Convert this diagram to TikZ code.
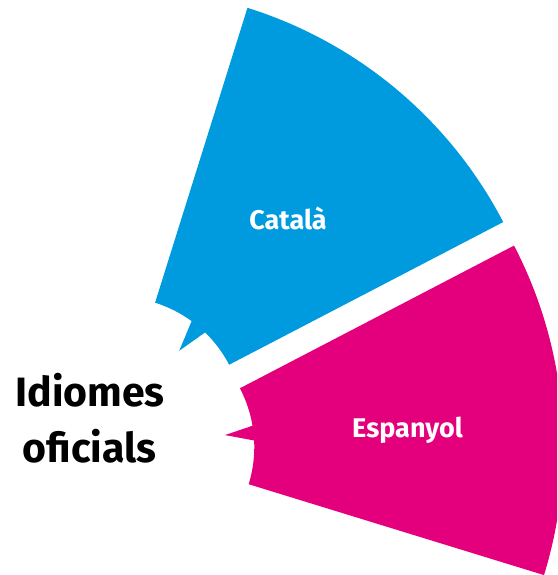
\documentclass[tikz,border=0pt]{standalone}
\usepackage{fontspec}
\setmainfont{Fira Sans}
\definecolor{catblue}{HTML}{009ADE}
\definecolor{espmag}{HTML}{E4007C}
\tikzset{
  wedgeblue/.style={fill=catblue, draw=none},
  wedgemag/.style={fill=espmag, draw=none},
  wedgelabel/.style={text=white, font=\bfseries\fontsize{27}{32}\selectfont, anchor=base, inner sep=0pt},
  titlelabel/.style={text=black, font=\bfseries\fontsize{41}{48}\selectfont, anchor=base, inner sep=0pt}
}
\begin{document}
\begin{tikzpicture}[x=1pt,y=1pt]
\useasboundingbox (0,0) rectangle (557,-575);
\clip (0,0) rectangle (557,-575);
% Catala wedge
\begin{scope}[shift={(117.4,-422.9)}]
  \fill[wedgeblue] (72.6:126) -- (72.6:435)
    arc[start angle=72.6, end angle=27.5, radius=435]
    -- (27.5:126)
    arc[start angle=27.5, end angle=45.9, radius=126]
    -- (49.4:95) -- (53.9:126)
    arc[start angle=53.9, end angle=72.6, radius=126]
    -- cycle;
\end{scope}
% Espanyol wedge
\begin{scope}[shift={(127.3,-446.9)}]
  \fill[wedgemag] (27.5:127) -- (27.5:436)
    arc[start angle=27.5, end angle=-17.1, radius=436]
    -- (-17.1:127)
    arc[start angle=-17.1, end angle=2.9, radius=127]
    -- (6.9:98.4) -- (9.6:127)
    arc[start angle=9.6, end angle=27.5, radius=127]
    -- cycle;
\end{scope}
\node[wedgelabel] (catala) at (288,-229) {Català};
\node[wedgelabel] (espanyol) at (407.6,-437.7) {Espanyol};
\node[titlelabel] (title1) at (90,-406) {Idiomes};
\node[titlelabel] (title2) at (89.5,-462) {oficials};
\end{tikzpicture}
\end{document}
